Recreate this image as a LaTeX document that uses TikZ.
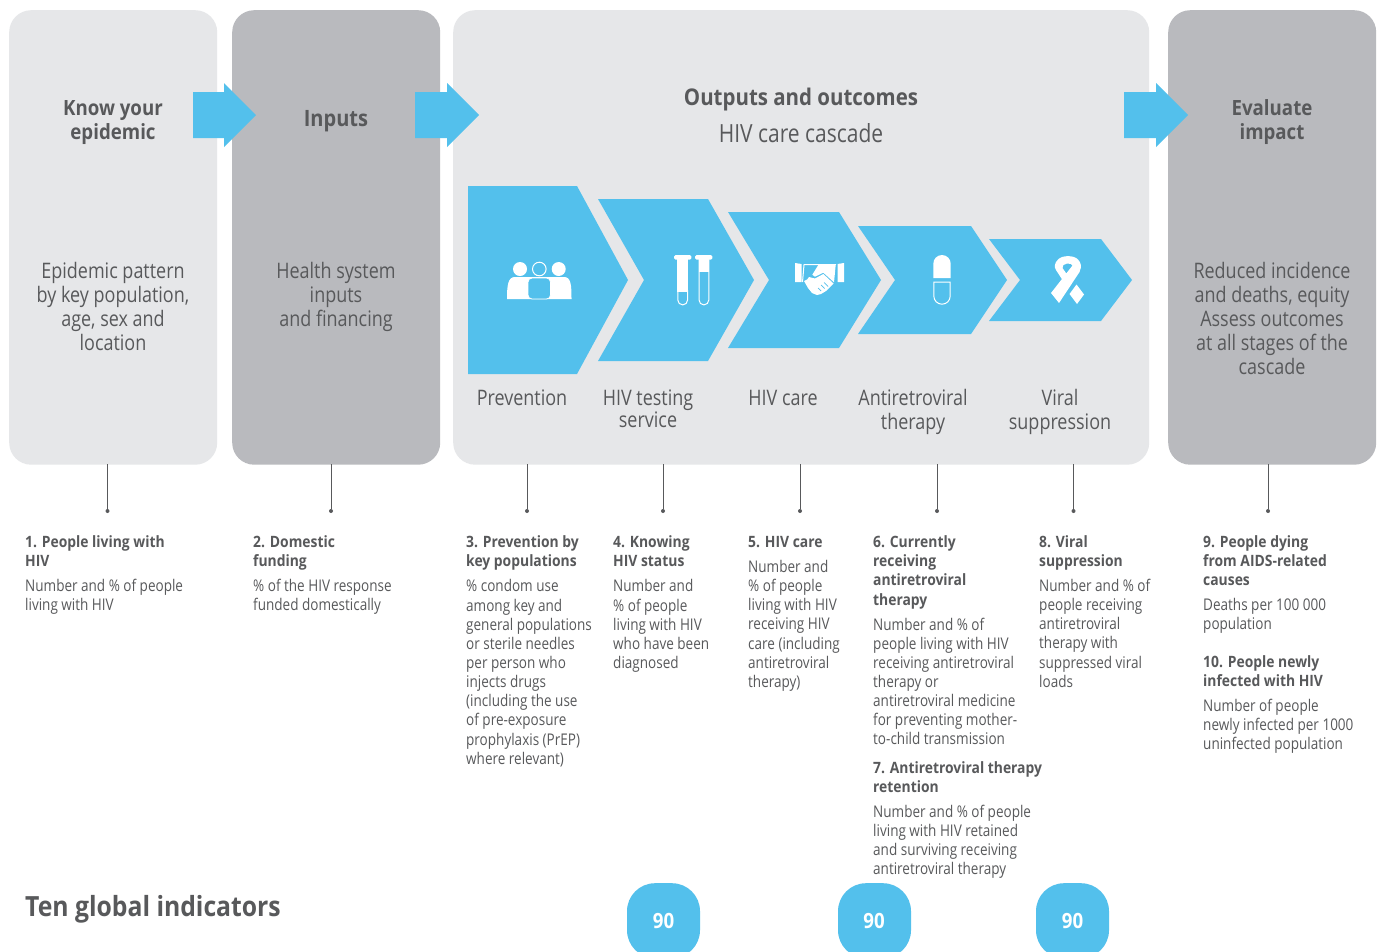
\documentclass[tikz,border=0pt]{standalone}
\usepackage{fontspec}
\setmainfont[FakeStretch=0.84,BoldFeatures={FakeStretch=0.89}]{Open Sans}
\definecolor{lightp}{HTML}{E6E7E9}
\definecolor{darkp}{HTML}{B9BABE}
\definecolor{sky}{HTML}{53C0EC}
\definecolor{ink}{HTML}{58595B}
\newcommand{\fs}[2]{\fontsize{#1}{#2}\selectfont}
\tikzset{
 x=1pt,y=-1pt,
 panel/.style={rounded corners=22pt,inner sep=0pt,minimum height=454.5pt,minimum width=208pt,anchor=north west},
 bigtxt/.style={align=center,inner sep=0pt,text=ink,font=\fs{21.4}{24}},
 bighead/.style={align=center,inner sep=0pt,text=ink,font=\fs{21}{24}\bfseries},
 steplabel/.style={align=center,inner sep=0pt,text=ink,font=\fs{21.4}{22}},
 small/.style={align=left,inner sep=0pt,anchor=north west,text=ink,font=\fs{16.1}{19.15},execute at begin node={\rule{0pt}{13pt}}},
 smallb/.style={small,font=\fs{15.6}{19.15}\bfseries},
 chev/.style={fill=sky,draw=none},
 badge/.style={fill=sky,rounded corners=28pt,minimum width=73pt,minimum height=75pt,inner sep=0pt,anchor=north,text=white},
 conn/.style={draw=ink,line width=.8pt},
 dotend/.style={circle,fill=ink,inner sep=0pt,minimum size=4pt},
 ico/.style={fill=white,draw=none},
 icol/.style={draw=white,line width=1pt,fill=none},
}
\begin{document}
\begin{tikzpicture}
\useasboundingbox (0,0) rectangle (1380,951);
\clip (0,0) rectangle (1380,951);
\fill[white] (0,0) rectangle (1380,951);
% panels
\node[panel,fill=lightp] (p1) at (9,10) {};
\node[panel,fill=darkp] (p2) at (232,10) {};
\node[panel,fill=lightp,minimum width=696pt] (p3) at (453,10) {};
\node[panel,fill=darkp] (p4) at (1168,10) {};
% arrows
\fill[sky] (193,92)--(224,92)--(224,83)--(256,115)--(224,147)--(224,138)--(193,138)--cycle;
\fill[sky] (415,92)--(447,92)--(447,83)--(479,115)--(447,147)--(447,138)--(415,138)--cycle;
\fill[sky] (1124,92)--(1156,92)--(1156,83)--(1188,115)--(1156,147)--(1156,138)--(1124,138)--cycle;
% headings
\node[bighead] (h1) at (113,123) {Know your\\epidemic};
\node[bighead,font=\fs{22.5}{26}\bfseries] (h2) at (336,121) {Inputs};
\node[bighead,font=\fs{23}{27}\bfseries] (h3) at (801,100) {Outputs and outcomes};
\node[bigtxt,font=\fs{25}{28}] (h3b) at (801,133) {HIV care cascade};
\node[bighead] (h4) at (1272,122) {Evaluate\\impact};
\node[bigtxt] (b1) at (113,306) {Epidemic pattern\\by key population,\\age, sex and\\location};
\node[bigtxt] (b2) at (336,297) {Health system\\inputs\\and financing};
\node[bigtxt] (b4) at (1272,318) {Reduced incidence\\and deaths, equity\\Assess outcomes\\at all stages of the\\cascade};
% chevrons
\fill[chev] (468,186)--(577,186)--(628,280)--(577,374)--(468,374)--cycle;
\fill[chev] (598,199)--(708,199)--(754,280)--(708,361)--(598,361)--(644,280)--cycle;
\fill[chev] (728,212)--(839,212)--(881,280)--(839,348)--(728,348)--(769,280)--cycle;
\fill[chev] (858,226)--(971,226)--(1007,280)--(971,334)--(858,334)--(895,280)--cycle;
\fill[chev] (989,239)--(1101,239)--(1132,280)--(1101,321)--(989,321)--(1020,280)--cycle;
% people icon
\fill[ico] (520,269) circle (7);
\fill[ico] (558.7,269) circle (7);
\draw[icol] (539.3,269) circle (6.8);
\fill[ico] (507,299) .. controls (507,285) and (508,277) .. (515,277) -- (564,277) .. controls (571,277) and (571.5,285) .. (571.5,299) -- cycle;
\draw[draw=white,fill=sky,line width=.8pt,rounded corners=4pt] (528,299)--(528,278)--(550.5,278)--(550.5,299)--cycle;
% test tubes
\fill[ico,rounded corners=1.5pt] (674,255) rectangle (691.3,259.7);
\fill[ico,rounded corners=1.5pt] (695,255) rectangle (712.3,259.7);
\fill[ico] (677.3,258)--(688,258)--(688,292)--(677.3,292)--cycle;
\draw[icol] (677.8,290) -- (677.8,300) arc[start angle=180,end angle=0,x radius=4.9,y radius=4.9] -- (687.6,290);
\draw[icol] (699,258) -- (699,300) arc[start angle=180,end angle=0,x radius=4.9,y radius=4.9] -- (708.8,258);
\fill[ico] (698.7,258) rectangle (709,272);
% handshake icon
\fill[ico] (795,263) -- (801.5,264) -- (801.5,282) -- (795,282) -- cycle;
\fill[ico] (844,263) -- (837.5,264) -- (837.5,282) -- (844,282) -- cycle;
\draw[icol] (802.5,282) -- (804,264.7) -- (836,264.7);
\fill[ico] (818.3,265)--(835.7,265)--(834,282.3)--(823.3,272.7)--(815,276.7)--(812.3,274.7)--cycle;
\fill[ico] (823.3,274)--(833.5,283.5)--(830,287)--(826,291)--(821,294)--(818,293.5)--(806,281)--(809,277)--(815,278.5)--cycle;
\fill[ico] (804,281)--(807,279.5)--(821,294)--(817,295)--(812,293)--(808,288)--cycle;
\draw[draw=sky,line width=.7pt] (821,285)--(824.5,288.5) (824,282.5)--(828,286.5) (818,288)--(821,291);
% capsule icon
\fill[ico] (933.3,278) -- (933.3,263.7) arc[start angle=180,end angle=0,x radius=8.7,y radius=-8.7] -- (950.7,278) -- cycle;
\draw[icol] (933.8,282) -- (933.8,296) arc[start angle=180,end angle=0,x radius=8.2,y radius=8.2] -- (950.2,282) -- cycle;
% ribbon icon
\fill[ico] (1051,293)--(1059,303)--(1079.5,272)
  .. controls (1082,266) and (1081,263) .. (1078,259.5)
  .. controls (1074,255) and (1062,255) .. (1058,259.5)
  .. controls (1054.5,263) and (1054,267) .. (1056,270)
  --(1062.5,280)--(1067,274.5)--(1062.5,268)
  .. controls (1062,266) and (1064,263.5) .. (1067,263.5)
  .. controls (1070,263.5) and (1072,264) .. (1072.5,265.5)--cycle;
\fill[ico] (1069.5,294)--(1076.5,284.5)--(1084,294.5)--(1077,304)--cycle;
% step labels
\node[steplabel] (s1) at (522,398) {Prevention};
\node[steplabel] (s2) at (648,409) {HIV testing\\service};
\node[steplabel] (s3) at (783,398) {HIV care};
\node[steplabel,font=\fs{21.4}{24}] (s4) at (913,412) {Antiretroviral\\therapy};
\node[steplabel,font=\fs{21.4}{24}] (s5) at (1060,412) {Viral\\suppression};
% connectors
\foreach \n/\x in {a/107.5,b/331,c/527,d/663,e/800,f/937,g/1073.5,h/1268}{
  \coordinate (t\n) at (\x,464);
  \node[dotend] (e\n) at (\x,511) {};
  \draw[conn] (t\n) -- (e\n);
}
% indicators
\node[smallb] (i1t) at (25,535.6) {1. People living with\\HIV};
\node[small] (i1b) at (25,579) {Number and \% of people\\living with HIV};
\node[smallb] (i2t) at (253,535.6) {2. Domestic\\funding};
\node[small] (i2b) at (253,579) {\% of the HIV response\\funded domestically};
\node[smallb] (i3t) at (466,535.6) {3. Prevention by\\key populations};
\node[small] (i3b) at (466,579.5) {\% condom use\\among key and\\general populations\\or sterile needles\\per person who\\injects drugs\\(including the use\\of pre-exposure\\prophylaxis (PrEP)\\where relevant)};
\node[smallb] (i4t) at (613,535.6) {4. Knowing\\HIV status};
\node[small] (i4b) at (613,579.5) {Number and\\\% of people\\living with HIV\\who have been\\diagnosed};
\node[smallb] (i5t) at (748,534) {5. HIV care};
\node[small] (i5b) at (748,560) {Number and\\\% of people\\living with HIV\\receiving HIV\\care (including\\antiretroviral\\therapy)};
\node[smallb] (i6t) at (873,535.6) {6. Currently\\receiving\\antiretroviral\\therapy};
\node[small] (i6b) at (873,617.5) {Number and \% of\\people living with HIV\\receiving antiretroviral\\therapy or\\antiretroviral medicine\\for preventing mother-\\to-child transmission};
\node[smallb] (i7t) at (873,761.5) {7. Antiretroviral therapy\\retention};
\node[small] (i7b) at (873,804.5) {Number and \% of people\\living with HIV retained\\and surviving receiving\\antiretroviral therapy};
\node[smallb] (i8t) at (1039,535.6) {8. Viral\\suppression};
\node[small] (i8b) at (1039,579) {Number and \% of\\people receiving\\antiretroviral\\therapy with\\suppressed viral\\loads};
\node[smallb] (i9t) at (1203,535.6) {9. People dying\\from AIDS-related\\causes};
\node[small] (i9b) at (1203,598) {Deaths per 100 000\\population};
\node[smallb] (i10t) at (1203,655.5) {10. People newly\\infected with HIV};
\node[small] (i10b) at (1203,699) {Number of people\\newly infected per 1000\\uninfected population};
\node[inner sep=0pt,anchor=base west,text=ink,font=\fs{27.8}{33}\bfseries] (ten) at (25,916) {Ten global indicators};
% badges
\node[badge] (n1) at (663.5,883) {};
\node[badge] (n2) at (874.5,883) {};
\node[badge] (n3) at (1072.5,883) {};
\node[text=white,inner sep=0pt,font=\fs{21}{24}\bfseries] (t1) at (663.5,921) {90};
\node[text=white,inner sep=0pt,font=\fs{21}{24}\bfseries] (t2) at (874,921) {90};
\node[text=white,inner sep=0pt,font=\fs{21}{24}\bfseries] (t3) at (1072.5,921) {90};
\end{tikzpicture}
\end{document}
